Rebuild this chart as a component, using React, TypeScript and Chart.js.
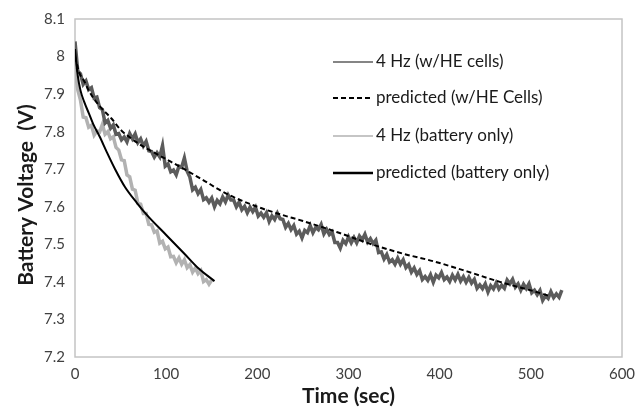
import React, { useEffect, useRef } from 'react';
import { Chart, registerables } from 'chart.js';

Chart.register(...registerables);

// ---- data ----
const SAMPLE_DT = 3; // seconds between logged samples

const heCellsVoltage = [
  8.040, 7.962, 7.954, 7.926, 7.935, 7.912, 7.917, 7.889, 7.892, 7.864,
  7.859, 7.823, 7.830, 7.809, 7.818, 7.793, 7.795, 7.778, 7.786, 7.773,
  7.795, 7.781, 7.794, 7.771, 7.781, 7.762, 7.774, 7.749, 7.747, 7.732,
  7.744, 7.733, 7.763, 7.708, 7.714, 7.693, 7.698, 7.685, 7.708, 7.705,
  7.730, 7.695, 7.679, 7.645, 7.652, 7.635, 7.646, 7.619, 7.624, 7.612,
  7.623, 7.600, 7.617, 7.608, 7.626, 7.613, 7.631, 7.618, 7.618, 7.600,
  7.612, 7.592, 7.601, 7.584, 7.599, 7.587, 7.599, 7.575, 7.583, 7.572,
  7.584, 7.561, 7.576, 7.566, 7.583, 7.568, 7.566, 7.545, 7.556, 7.539,
  7.550, 7.527, 7.535, 7.517, 7.537, 7.531, 7.550, 7.531, 7.545, 7.539,
  7.553, 7.528, 7.540, 7.526, 7.533, 7.505, 7.505, 7.490, 7.511, 7.502,
  7.520, 7.504, 7.518, 7.504, 7.522, 7.512, 7.527, 7.506, 7.515, 7.502,
  7.511, 7.478, 7.480, 7.461, 7.473, 7.453, 7.459, 7.447, 7.463, 7.447,
  7.459, 7.438, 7.446, 7.426, 7.437, 7.420, 7.430, 7.406, 7.414, 7.404,
  7.419, 7.399, 7.418, 7.411, 7.425, 7.406, 7.413, 7.401, 7.418, 7.405,
  7.420, 7.402, 7.414, 7.399, 7.412, 7.397, 7.407, 7.383, 7.392, 7.382,
  7.395, 7.373, 7.390, 7.381, 7.397, 7.381, 7.391, 7.383, 7.405, 7.395,
  7.407, 7.386, 7.395, 7.378, 7.394, 7.382, 7.395, 7.371, 7.378, 7.366,
  7.377, 7.351, 7.363, 7.356, 7.374, 7.358, 7.368, 7.359, 7.378,
];

const batteryOnlyVoltage = [
  7.970, 7.912, 7.884, 7.839, 7.837, 7.812, 7.817, 7.791, 7.802, 7.799,
  7.819, 7.793, 7.800, 7.781, 7.786, 7.758, 7.751, 7.725, 7.723, 7.685,
  7.680, 7.647, 7.644, 7.609, 7.607, 7.582, 7.582, 7.553, 7.552, 7.532,
  7.536, 7.503, 7.508, 7.488, 7.493, 7.467, 7.468, 7.451, 7.464, 7.447,
  7.459, 7.438, 7.446, 7.426, 7.437, 7.422, 7.430, 7.401, 7.406, 7.394,
  7.405,
];

const predHeTime = [0, 2, 5, 10, 15, 20, 30, 40, 50, 60, 75, 90, 105, 120, 140, 166, 200, 225, 250, 287, 323, 360, 393, 430, 466, 502, 520];
const predHeVoltage = [8.00, 7.98, 7.955, 7.935, 7.91, 7.89, 7.86, 7.835, 7.805, 7.785, 7.76, 7.74, 7.72, 7.70, 7.672, 7.635, 7.60, 7.58, 7.562, 7.533, 7.502, 7.475, 7.455, 7.428, 7.40, 7.376, 7.363];

const predBatTime = [0, 3, 6, 10, 15, 20, 27, 35, 44, 55, 68, 80, 100, 120, 135, 153];
const predBatVoltage = [8.02, 7.95, 7.91, 7.88, 7.85, 7.82, 7.787, 7.745, 7.70, 7.652, 7.61, 7.575, 7.525, 7.475, 7.437, 7.402];

const seriesLabels = ['4 Hz (w/HE cells)', 'predicted (w/HE Cells)', '4 Hz (battery only)', 'predicted (battery only)'];
const xTitle = 'Time (sec)';
const yTitle = 'Battery Voltage  (V)';

const X_MIN = 0, X_MAX = 600, X_STEP = 100;
const Y_MIN = 7.2, Y_MAX = 8.1, Y_STEP = 0.1;

const FONT = 'Lato, "Open Sans", sans-serif';

const plotBorder = {
  id: 'plotBorder',
  beforeDatasetsDraw(chart: any) {
    const { ctx, chartArea: a } = chart;
    ctx.save();
    ctx.strokeStyle = '#c4c4c4';
    ctx.lineWidth = 1.5;
    ctx.strokeRect(a.left, a.top, a.right - a.left, a.bottom - a.top);
    ctx.restore();
  },
};

const yTitlePlugin = {
  id: 'yTitlePlugin',
  afterDraw(chart: any) {
    const { ctx } = chart;
    ctx.save();
    ctx.translate(26, 195);
    ctx.rotate(-Math.PI / 2);
    ctx.font = 'bold 21px ' + FONT;
    ctx.fillStyle = '#1a1a1a';
    ctx.textAlign = 'center';
    ctx.textBaseline = 'middle';
    ctx.fillText(yTitle, 0, 0);
    ctx.restore();
  },
};

const customLegend = {
  id: 'customLegend',
  afterDraw(chart: any) {
    const { ctx } = chart;
    const x0 = 333, lineLen = 40, textX = 376;
    const ys = [62, 98, 136, 173];
    ctx.save();
    ctx.font = '17px ' + FONT;
    ctx.textBaseline = 'middle';
    ctx.textAlign = 'left';
    seriesLabels.forEach((label, k) => {
      const ds = chart.data.datasets.find((d: any) => d.label === label);
      const y = ys[k];
      ctx.beginPath();
      ctx.strokeStyle = ds.borderColor;
      ctx.lineWidth = ds.legendWidth;
      ctx.setLineDash(ds.borderDash || []);
      ctx.moveTo(x0, y);
      ctx.lineTo(x0 + lineLen, y);
      ctx.stroke();
      ctx.setLineDash([]);
      ctx.fillStyle = '#1a1a1a';
      ctx.fillText(label, textX, y);
    });
    ctx.restore();
  },
};

export default function App() {
  const ref = useRef<HTMLCanvasElement | null>(null);

  useEffect(() => {
    document.body.style.margin = '0';
    if (!ref.current) return;
    const chart = new Chart(ref.current, {
      type: 'line',
      data: {
        datasets: [
          {
            label: seriesLabels[1],
            data: predHeTime.map((t, i) => ({ x: t, y: predHeVoltage[i] })),
            borderColor: '#000000',
            borderWidth: 2,
            borderDash: [5, 3],
            legendWidth: 2,
            pointRadius: 0,
            cubicInterpolationMode: 'monotone',
            order: 0,
          } as any,
          {
            label: seriesLabels[3],
            data: predBatTime.map((t, i) => ({ x: t, y: predBatVoltage[i] })),
            borderColor: '#000000',
            borderWidth: 2,
            legendWidth: 2.5,
            pointRadius: 0,
            cubicInterpolationMode: 'monotone',
            order: 1,
          } as any,
          {
            label: seriesLabels[0],
            data: heCellsVoltage.map((v, i) => ({ x: i * SAMPLE_DT, y: v })),
            borderColor: '#5c5c5c',
            borderWidth: 3.5,
            legendWidth: 1.5,
            pointRadius: 0,
            tension: 0,
            order: 2,
          } as any,
          {
            label: seriesLabels[2],
            data: batteryOnlyVoltage.map((v, i) => ({ x: i * SAMPLE_DT, y: v })),
            borderColor: '#b2b2b2',
            borderWidth: 3.5,
            legendWidth: 1.5,
            pointRadius: 0,
            tension: 0,
            order: 3,
          } as any,
        ],
      },
      options: {
        animation: false,
        responsive: false,
        layout: { padding: { left: 0, top: 14, right: 22, bottom: 0 } },
        plugins: { legend: { display: false }, tooltip: { enabled: false } },
        scales: {
          x: {
            type: 'linear',
            min: X_MIN,
            max: X_MAX,
            ticks: { stepSize: X_STEP, color: '#404040', font: { family: FONT, size: 15 }, padding: 8, maxRotation: 0 },
            grid: { display: false, drawTicks: false },
            border: { display: false },
            title: { display: true, text: xTitle, color: '#1a1a1a', font: { family: FONT, size: 21, weight: 'bold' }, padding: { top: 0, bottom: 1 } },
            afterFit(s: any) { s.height = 53; },
          },
          y: {
            type: 'linear',
            min: Y_MIN,
            max: Y_MAX,
            ticks: {
              stepSize: Y_STEP,
              color: '#404040',
              font: { family: FONT, size: 15 },
              padding: 10,
              callback: (v: any) => String(Math.round(Number(v) * 10) / 10),
            },
            grid: { display: false, drawTicks: false },
            border: { display: false },
            title: { display: false },
            afterFit(s: any) { s.width = 75; },
          },
        },
      } as any,
      plugins: [plotBorder, customLegend, yTitlePlugin],
    });
    return () => chart.destroy();
  }, []);

  return (
    <div style={{ width: 644, height: 410 }}>
      <canvas ref={ref} width={644} height={410} />
    </div>
  );
}
